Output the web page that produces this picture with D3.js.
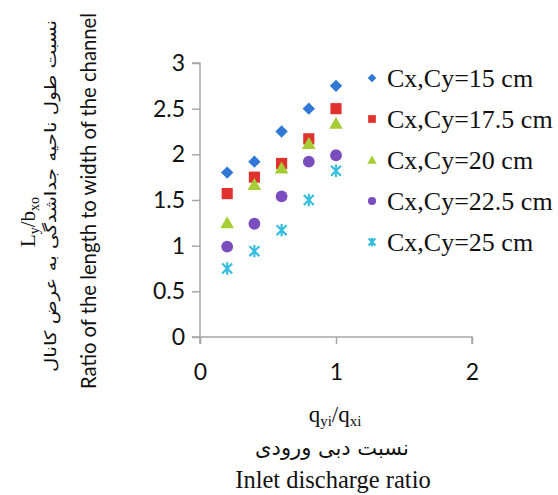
<!DOCTYPE html>
<html><head><meta charset="utf-8">
<script src="https://cdn.jsdelivr.net/npm/d3@7"></script>
<style>body{margin:0;background:#fff}</style>
</head><body>
<svg id="c" width="558" height="495"></svg>
<script>
const xValues = [0.2, 0.4, 0.6, 0.8, 1.0];
const seriesNames = ["Cx,Cy=15 cm", "Cx,Cy=17.5 cm", "Cx,Cy=20 cm", "Cx,Cy=22.5 cm", "Cx,Cy=25 cm"];
const s15 = [1.80, 1.92, 2.25, 2.50, 2.75];
const s175 = [1.57, 1.75, 1.90, 2.17, 2.50];
const s20 = [1.25, 1.67, 1.85, 2.12, 2.34];
const s225 = [0.99, 1.24, 1.54, 1.92, 1.99];
const s25 = [0.75, 0.94, 1.17, 1.50, 1.82];
const yTicks = [0, 0.5, 1, 1.5, 2, 2.5, 3];
const xTicks = [0, 1, 2];
const colors = ["#2F78D6", "#E0322E", "#A6CE34", "#7C4DBF", "#36BEE0"];
const shapes = ["diamond", "square", "triangle", "circle", "star"];
const allSeries = [s15, s175, s20, s225, s25];

const svg = d3.select("#c");
const x = d3.scaleLinear().domain([0, 2]).range([200, 472]);
const y = d3.scaleLinear().domain([0, 3]).range([337, 63]);
const axisColor = "#A6A6A6";

function markerPath(shape, r) {
  const p = d3.path();
  if (shape === "diamond") { p.moveTo(0,-r); p.lineTo(r,0); p.lineTo(0,r); p.lineTo(-r,0); p.closePath(); }
  else if (shape === "square") { const s = r*0.9; p.rect(-s,-s,2*s,2*s); }
  else if (shape === "triangle") { const h = r*1.05; p.moveTo(0,-h); p.lineTo(h*1.05,h*0.85); p.lineTo(-h*1.05,h*0.85); p.closePath(); }
  else if (shape === "circle") { p.arc(0,0,r*0.95,0,2*Math.PI); }
  else if (shape === "star") { const s=r*0.8; p.moveTo(-s,-s); p.lineTo(s,s); p.moveTo(s,-s); p.lineTo(-s,s); p.moveTo(0,-r); p.lineTo(0,r); }
  return p.toString();
}
function drawMarker(g, shape, color, r) {
  if (shape === "star") g.append("path").attr("d", markerPath(shape, r)).attr("fill","none").attr("stroke",color).attr("stroke-width",2.2);
  else g.append("path").attr("d", markerPath(shape, r)).attr("fill",color);
}

// axes
const yAxis = d3.axisLeft(y).tickValues(yTicks).tickSize(8).tickPadding(7).tickFormat(d => d3.format("")(d));
const gy = svg.append("g").attr("transform","translate(200,0)").call(yAxis);
gy.select(".domain").attr("stroke",axisColor).attr("stroke-width",1.5).attr("d","M-8,63H0V337H-8");
gy.selectAll(".tick line").attr("stroke",axisColor).attr("stroke-width",1.5);
gy.selectAll(".tick text").attr("font-family","Lato, 'Open Sans', sans-serif").attr("font-size",23).attr("fill","#111");

const xAxis = d3.axisBottom(x).tickValues(xTicks).tickSize(7).tickPadding(20).tickFormat(d3.format("d"));
const gx = svg.append("g").attr("transform","translate(0,337)").call(xAxis);
gx.select(".domain").attr("stroke",axisColor).attr("stroke-width",1.5).attr("d","M200,7V0H472V7");
gx.selectAll(".tick line").attr("stroke",axisColor).attr("stroke-width",1.5);
gx.selectAll(".tick text").attr("font-family","Lato, 'Open Sans', sans-serif").attr("font-size",23).attr("fill","#111");

// points
allSeries.forEach((vals, i) => {
  vals.forEach((v, j) => {
    const g = svg.append("g").attr("transform", `translate(${x(xValues[j])},${y(v)})`);
    drawMarker(g, shapes[i], colors[i], 6.2);
  });
});

// legend
const legY = [78, 119, 160, 201, 242];
seriesNames.forEach((name, i) => {
  const g = svg.append("g").attr("transform", `translate(372,${legY[i]})`);
  drawMarker(g, shapes[i], colors[i], 4.3);
  g.append("text").attr("x", 15).attr("y", 0).attr("dy","0.35em")
    .attr("font-family","'Liberation Serif', 'Times New Roman', serif").attr("font-size",26).attr("fill","#111").text(name);
});

// y title
const yt = svg.append("g");
const t1 = yt.append("text").attr("transform","translate(35,222) rotate(-90)").attr("text-anchor","middle")
  .attr("font-family","'Liberation Serif', serif").attr("font-size",21).attr("fill","#111");
t1.append("tspan").text("L");
t1.append("tspan").attr("font-size",14).attr("dy",4).text("y");
t1.append("tspan").attr("dy",-4).text("/b");
t1.append("tspan").attr("font-size",14).attr("dy",4).text("xo");
yt.append("text").attr("transform","translate(56,196) rotate(-90)").attr("text-anchor","middle")
  .attr("font-family","'DejaVu Sans', sans-serif").attr("font-size",16).attr("fill","#111")
  .attr("direction","rtl")
  .attr("textLength",352).attr("lengthAdjust","spacingAndGlyphs")
  .text("نسبت طول ناحیه جداشدگی به عرض کانال");
yt.append("text").attr("transform","translate(96,201) rotate(-90)").attr("text-anchor","middle")
  .attr("font-family","Lato, 'Open Sans', sans-serif").attr("font-size",21).attr("fill","#111")
  .attr("textLength",376).attr("lengthAdjust","spacingAndGlyphs")
  .text("Ratio of the length to width of the channel");

// x title
const q = svg.append("text").attr("x",335).attr("y",422).attr("text-anchor","middle")
  .attr("font-family","'Liberation Serif', serif").attr("font-size",23).attr("fill","#111");
q.append("tspan").text("q");
q.append("tspan").attr("font-size",15).attr("dy",4).text("yi");
q.append("tspan").attr("dy",-4).text("/q");
q.append("tspan").attr("font-size",15).attr("dy",4).text("xi");
svg.append("text").attr("x",332).attr("y",455).attr("text-anchor","middle")
  .attr("font-family","'DejaVu Sans', sans-serif").attr("font-size",21).attr("fill","#111")
  .attr("direction","rtl")
  .text("نسبت دبی ورودی");
svg.append("text").attr("x",333).attr("y",488).attr("text-anchor","middle")
  .attr("font-family","'Liberation Serif', serif").attr("font-size",24.5).attr("fill","#111")
  .text("Inlet discharge ratio");
</script>
</body></html>
